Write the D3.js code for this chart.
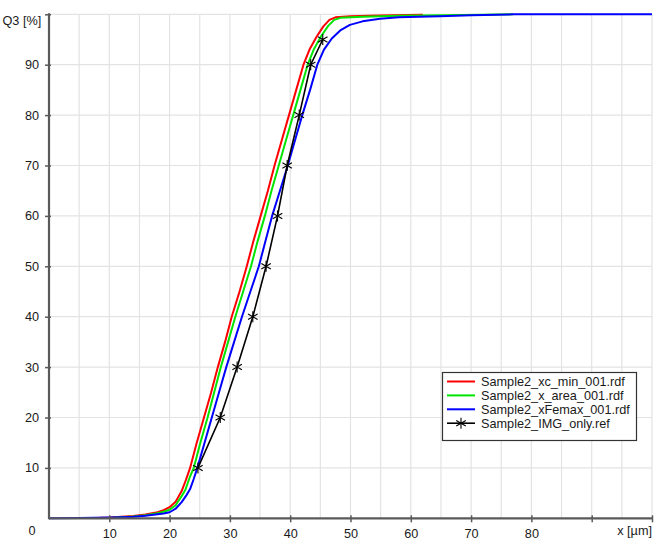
<!DOCTYPE html>
<html>
<head>
<meta charset="utf-8">
<script src="https://cdn.jsdelivr.net/npm/d3@7/dist/d3.min.js"></script>
<style>
  html, body { margin: 0; padding: 0; background: #fff; }
  svg { display: block; }
  text { font-family: "Liberation Sans", Arial, sans-serif; fill: #1a1a1a; }
</style>
</head>
<body>
<svg id="chart" width="656" height="550"></svg>
<script>
// ---- data (x in µm, Q3 in %) ----
const seriesNames = ["Sample2_xc_min_001.rdf", "Sample2_x_area_001.rdf", "Sample2_xFemax_001.rdf", "Sample2_IMG_only.ref"];
const seriesColors = ["#ff0000", "#00e600", "#0000ff", "#000000"];

const xcMin = [
  [8.5,0.1],[10,0.15],[12,0.3],[14,0.45],[16,0.75],[18,1.2],[19,1.6],[20,2.2],[21,3.3],[22,5.4],[22.7,7.6],
  [23.4,10],[24.5,15],[25.7,20],[26.9,25],[28.0,30],[29.2,35],[30.3,40],[31.6,45],[32.8,50],[33.9,55],
  [35.1,60],[36.3,65],[37.4,70],[38.6,75],[39.8,80],[41.0,85],[42.2,90],[43.2,93],[44.4,95.6],[45.5,97.6],
  [46.5,98.9],[47.5,99.4],[50,99.6],[53,99.7],[57,99.8],[62,99.9]
];
const xArea = [
  [10.5,0.1],[12,0.2],[14,0.35],[16,0.6],[18,1.0],[19,1.3],[20,1.7],[21,2.6],[22,4.4],[22.6,5.6],[23.3,8],
  [24.0,10],[25.1,15],[26.3,20],[27.4,25],[28.5,30],[29.7,35],[30.9,40],[32.2,45],[33.5,50],[34.6,55],
  [35.8,60],[36.9,65],[38.1,70],[39.3,75],[40.5,80],[41.7,85],[42.9,90],[43.9,93],[45.1,95.6],[46.3,97.7],
  [47.3,98.9],[48.3,99.3],[52,99.5],[58,99.7],[65,99.8],[72,99.9],[77,100]
];
const xFemax = [
  [0,0],[5,0.05],[10,0.15],[12,0.2],[14,0.3],[16,0.5],[18,0.8],[19,0.95],[20,1.2],[21,1.9],[22,3.2],[22.8,4.6],
  [23.4,5.8],[24.0,7.8],[24.6,10],[25.8,15],[27.0,20],[28.2,25],[29.4,30],[30.7,35],[32.0,40],[33.4,45],
  [34.8,50],[35.9,55],[37.0,60],[38.3,65],[39.6,70],[40.8,75],[42.0,80],[43.3,85],[44.5,90],[45.6,93],
  [46.9,95.2],[48.3,96.8],[49.9,97.9],[52,98.6],[54.9,99.1],[58,99.4],[64.8,99.6],[70,99.8],[77,100],[100,100]
];
const imgOnly = [
  [24.7,10],[28.4,20],[31.2,30],[33.8,40],[36.0,50],[37.9,60],[39.5,70],[41.5,80],[43.4,90],[45.4,95]
];

const xTickValues = [10, 20, 30, 40, 50, 60, 70, 80, 90, 100];
const xTickLabels = ["10", "20", "30", "40", "50", "60", "70", "80", "", ""];
const yTickValues = [10, 20, 30, 40, 50, 60, 70, 80, 90, 100];
const yTickLabels = ["10", "20", "30", "40", "50", "60", "70", "80", "90", ""];
const xGridValues = d3.range(5, 101, 5);
const yGridValues = d3.range(10, 101, 10);

// ---- layout ----
const svg = d3.select("#chart");
const plotLeft = 49, plotRight = 652, plotTop = 14.3, plotBottom = 518.3;
const x = d3.scaleLinear().domain([0, 100]).range([plotLeft, plotRight]);
const y = d3.scaleLinear().domain([0, 100]).range([plotBottom, plotTop]);
const fontSize = 12.7;

// grid
const grid = svg.append("g").attr("stroke", "#e3e3e3").attr("stroke-width", 1.2);
grid.selectAll(".vg").data(xGridValues).join("line")
  .attr("x1", d => x(d)).attr("x2", d => x(d)).attr("y1", plotTop).attr("y2", plotBottom);
grid.selectAll(".hg").data(yGridValues).join("line")
  .attr("x1", plotLeft).attr("x2", plotRight).attr("y1", d => y(d)).attr("y2", d => y(d));

// curves
const line = d3.line().x(d => x(d[0])).y(d => y(d[1]));
const curveData = [xcMin, xArea, xFemax];
curveData.forEach((data, i) => {
  svg.append("path").datum(data)
    .attr("d", line).attr("fill", "none")
    .attr("stroke", seriesColors[i]).attr("stroke-width", 2)
    .attr("stroke-linejoin", "round");
});
svg.append("path").datum(imgOnly)
  .attr("d", line).attr("fill", "none")
  .attr("stroke", seriesColors[3]).attr("stroke-width", 1.6);

// asterisk marker
function asterisk(cx, cy, r) {
  const a = r * 0.866, b = r * 0.5;
  return `M${cx},${cy - r}L${cx},${cy + r}` +
         `M${cx - a},${cy - b}L${cx + a},${cy + b}` +
         `M${cx - a},${cy + b}L${cx + a},${cy - b}`;
}
svg.append("g").selectAll("path").data(imgOnly).join("path")
  .attr("d", d => asterisk(x(d[0]), y(d[1]), 5.5))
  .attr("stroke", "#000").attr("stroke-width", 1.1).attr("fill", "none");

// axes
const axisColor = "#5a5a5a";
const xAxis = d3.axisBottom(x).tickValues(xTickValues)
  .tickFormat((d, i) => xTickLabels[i]).tickSize(4).tickPadding(7);
const gx = svg.append("g").attr("transform", `translate(0,${plotBottom})`).call(xAxis);
gx.select(".domain").remove();
gx.selectAll(".tick line").attr("y1", -3).attr("y2", 4).attr("stroke", axisColor).attr("stroke-width", 1.5);
gx.selectAll(".tick text").attr("font-size", fontSize).attr("font-family", null).attr("fill", "#1a1a1a");
svg.append("line").attr("x1", plotLeft).attr("x2", plotRight + 1).attr("y1", plotBottom).attr("y2", plotBottom)
  .attr("stroke", axisColor).attr("stroke-width", 2.2);

const yAxis = d3.axisLeft(y).tickValues(yTickValues)
  .tickFormat((d, i) => yTickLabels[i]).tickSize(4).tickPadding(6);
const gy = svg.append("g").attr("transform", `translate(${plotLeft},0)`).call(yAxis);
gy.select(".domain").remove();
gy.selectAll(".tick line").attr("x1", -4).attr("x2", 2).attr("stroke", axisColor).attr("stroke-width", 1.5);
gy.selectAll(".tick text").attr("font-size", fontSize).attr("font-family", null).attr("fill", "#1a1a1a");
svg.append("line").attr("x1", plotLeft).attr("x2", plotLeft).attr("y1", plotTop - 1).attr("y2", plotBottom + 1)
  .attr("stroke", axisColor).attr("stroke-width", 2.2);

// axis titles & origin label
svg.append("text").attr("x", 2.5).attr("y", 25).attr("font-size", fontSize).text("Q3 [%]");
svg.append("text").attr("x", 32).attr("y", 535).attr("text-anchor", "middle").attr("font-size", fontSize).text("0");
svg.append("text").attr("x", 652).attr("y", 535).attr("text-anchor", "end").attr("font-size", fontSize).text("x [µm]");

// legend
const lg = svg.append("g");
lg.append("rect").attr("x", 442.5).attr("y", 372.5).attr("width", 194).attr("height", 68)
  .attr("fill", "#fff").attr("stroke", "#333").attr("stroke-width", 1.2);
seriesNames.forEach((name, i) => {
  const cy = 381.5 + i * 13.9;
  lg.append("line").attr("x1", 447).attr("x2", 475).attr("y1", cy).attr("y2", cy)
    .attr("stroke", seriesColors[i]).attr("stroke-width", i === 3 ? 1.6 : 2);
  if (i === 3) {
    lg.append("path").attr("d", asterisk(461, cy, 5.5)).attr("stroke", "#000")
      .attr("stroke-width", 1.1).attr("fill", "none");
  }
  lg.append("text").attr("x", 481).attr("y", cy + 4.5).attr("font-size", fontSize).text(name);
});
</script>
</body>
</html>
